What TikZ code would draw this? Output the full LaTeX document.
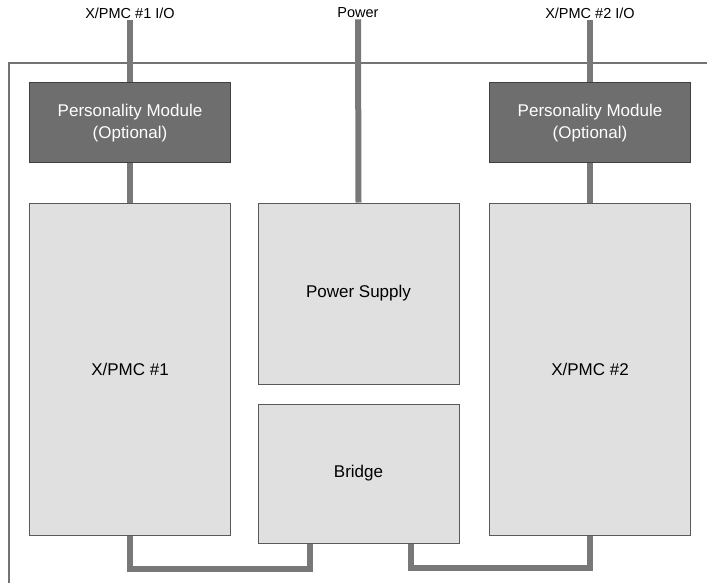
\documentclass[tikz,border=0pt]{standalone}
\usepackage{fontspec}
\setmainfont{Liberation Sans}
\usetikzlibrary{positioning,calc}

\begin{document}
\begin{tikzpicture}[
  x=1pt, y=-1pt,
  font=\fontsize{17}{22}\selectfont,
  pm/.style={draw=black!75, line width=1pt, fill=black!57, text=white, align=center,
             minimum width=201pt, minimum height=80pt, inner sep=0pt},
  card/.style={draw=black!65, line width=1pt, fill=black!12, align=center,
               minimum width=201pt, inner sep=0pt},
  lbl/.style={font=\fontsize{14.5}{17}\selectfont, inner sep=1pt},
  bus/.style={draw=black!53, line width=6pt, line join=miter},
  frame/.style={draw=black!55, line width=1.5pt}
]
\useasboundingbox (0,0) rectangle (707,583);
\draw[frame] (707,63) -| (9,583);
% top labels
\node[lbl] (io1) at (130,13) {X/PMC \#1 I/O};
\node[lbl] (pwr) at (358,13) {Power};
\node[lbl] (io2) at (590,13) {X/PMC \#2 I/O};
% modules
\node[pm] (pm1) at (130,123) {Personality Module\\(Optional)};
\node[pm] (pm2) at (590,123) {Personality Module\\(Optional)};
\node[card, minimum height=332pt] (xpmc1) at (130,369) {X/PMC \#1};
\node[card, minimum height=181pt] (psu) at (358.5,293.5) {Power Supply};
\node[card, minimum height=139pt] (bridge) at (358.5,473.5) {Bridge};
\node[card, minimum height=332pt] (xpmc2) at (590,369) {X/PMC \#2};
% buses
\draw[bus] (io1.south) -- (pm1.north);
\draw[bus] (pm1.south) -- (xpmc1.north);
\draw[bus] (pwr.south) -- (psu.north);
\draw[bus] (io2.south) -- (pm2.north);
\draw[bus] (pm2.south) -- (xpmc2.north);
\draw[bus] (xpmc1.south) -- ++(0,33) -| ([xshift=-48.5pt]bridge.south);
\draw[bus] ([xshift=52.5pt]bridge.south) -- ++(0,24) -| (xpmc2.south);
\end{tikzpicture}
\end{document}
